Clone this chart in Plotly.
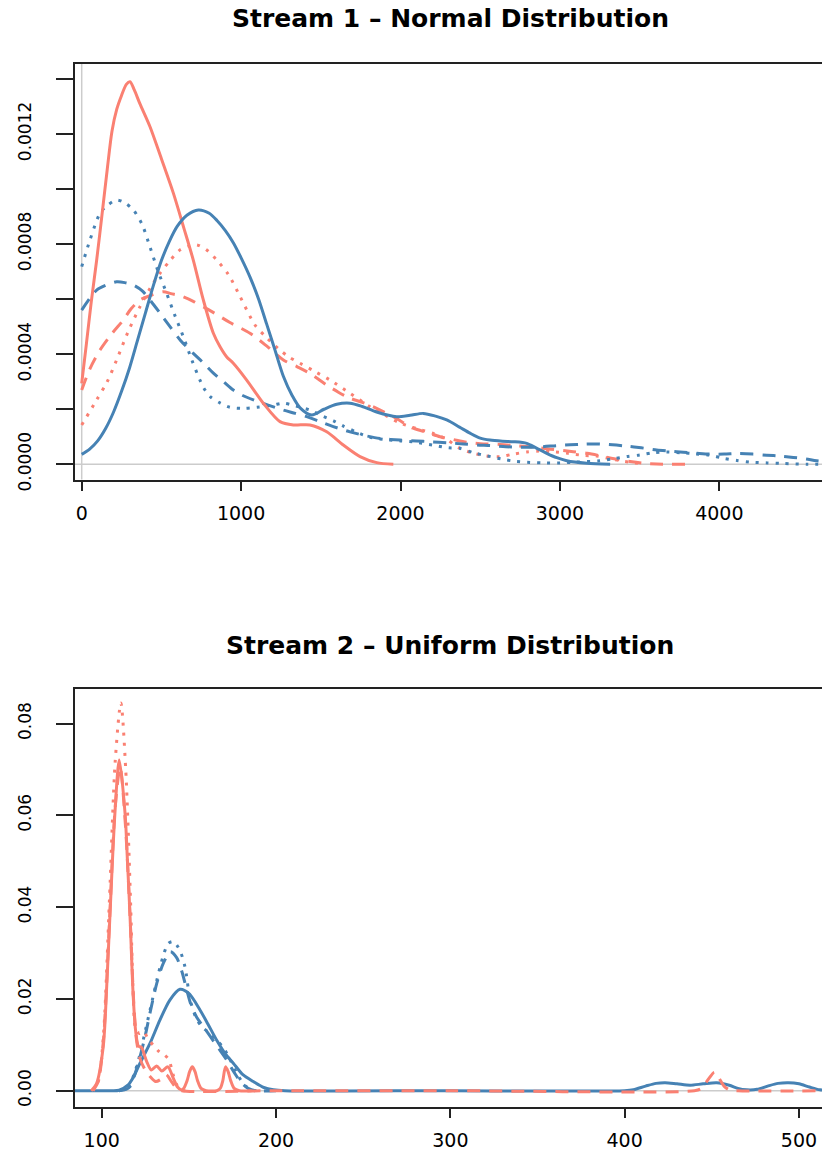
import plotly.graph_objects as go

SALMON = "#FA8072"
STEEL = "#4682B4"

# ---------------- Stream 1 : kernel density estimates ----------------
s1_red_solid_x = [0, 30, 60, 94, 130, 160, 190, 220, 250, 280, 303, 330, 365, 428, 500, 575, 640,
                  700, 763, 826, 868, 910, 951, 1035, 1139, 1244, 1328, 1432, 1537, 1641, 1746,
                  1851, 1955]
s1_red_solid_y = [0.000294, 0.00044, 0.00059, 0.000742, 0.00092, 0.00107, 0.00121, 0.00129, 0.00134,
                  0.00138, 0.00139, 0.00136, 0.00131, 0.001227, 0.00111, 0.000985, 0.00086,
                  0.000742, 0.000597, 0.000476, 0.000427, 0.00039, 0.000367, 0.000306, 0.000222,
                  0.000155, 0.000143, 0.000143, 0.000118, 0.00007, 0.000028, 0.000006, 0.0]

s1_red_dash_x = [0, 50, 115, 190, 261, 310, 366, 440, 512, 560, 620, 700, 770, 830, 930, 1056, 1160,
                 1265, 1350, 1432, 1537, 1610, 1683, 1760, 1830, 1955, 2080, 2170, 2248, 2330, 2415,
                 2500, 2624, 2740, 2833, 2938, 3084, 3170, 3252, 3340, 3440, 3520, 3607, 3700, 3835]
s1_red_dash_y = [0.00027, 0.000345, 0.000415, 0.000475, 0.000524, 0.000565, 0.000597, 0.000615,
                 0.000627, 0.00062, 0.000612, 0.000592, 0.00057, 0.00055, 0.000515, 0.000476,
                 0.00043, 0.000379, 0.000355, 0.00033, 0.000288, 0.000262, 0.00024, 0.000225,
                 0.000209, 0.000173, 0.000131, 0.000115, 0.0001, 0.00009, 0.00008, 0.000075,
                 0.000072, 0.000067, 0.000063, 0.000055, 0.000046, 0.00004, 0.000031, 0.00002,
                 0.00001, 0.000004, 0.000001, 0.0, 0.0]

s1_red_dot_x = [0, 94, 160, 219, 290, 366, 430, 491, 554, 617, 670, 721, 780, 847, 920, 993, 1087,
                1160, 1244, 1300, 1370, 1460, 1558, 1683, 1809, 1900, 1997, 2100, 2206, 2290, 2373,
                2457, 2541, 2624, 2708, 2792, 2870, 2950, 3050, 3150, 3230, 3320, 3398, 3500]
s1_red_dot_y = [0.000143, 0.000234, 0.0003, 0.000379, 0.00048, 0.000573, 0.00064, 0.000694, 0.00074,
                0.000779, 0.000792, 0.000797, 0.00078, 0.000742, 0.00069, 0.00061, 0.000506,
                0.00046, 0.000415, 0.00039, 0.000367, 0.000338, 0.000306, 0.000258, 0.000209,
                0.00018, 0.00015, 0.00013, 0.000112, 0.00009, 0.000058, 0.00004, 0.00003,
                0.000028, 0.000037, 0.000045, 0.000048, 0.000046, 0.00004, 0.000032, 0.00003,
                0.00002, 0.000011, 0.000003]

s1_blue_solid_x = [0, 50, 100, 150, 200, 250, 300, 350, 400, 450, 500, 550, 600, 660, 732, 800, 850,
                   900, 951, 1000, 1056, 1110, 1160, 1210, 1265, 1320, 1370, 1443, 1520, 1600, 1683,
                   1760, 1850, 1976, 2060, 2143, 2220, 2290, 2370, 2436, 2500, 2561, 2640, 2708,
                   2792, 2850, 2917, 2980, 3043, 3168, 3315]
s1_blue_solid_y = [0.000036, 0.000055, 0.000085, 0.00013, 0.00019, 0.000265, 0.00035, 0.00045,
                   0.00055, 0.00065, 0.00074, 0.00081, 0.000865, 0.000905, 0.000924, 0.000912,
                   0.000885, 0.00085, 0.000805, 0.00075, 0.00068, 0.0006, 0.00051, 0.00042,
                   0.00032, 0.00025, 0.000205, 0.000179, 0.0002, 0.000218, 0.000222, 0.00021,
                   0.00019, 0.000173, 0.000178, 0.000185, 0.000175, 0.000161, 0.000135, 0.000113,
                   0.000095, 0.000088, 0.000084, 0.000082, 0.000076, 0.00006, 0.00004, 0.000024,
                   0.000013, 0.000004, 0.0]

s1_blue_dash_x = [0, 94, 150, 219, 270, 324, 380, 428, 490, 554, 620, 700, 760, 826, 890, 951, 1010,
                  1077, 1170, 1265, 1340, 1411, 1495, 1578, 1683, 1788, 1872, 1997, 2100, 2185,
                  2290, 2394, 2480, 2561, 2660, 2749, 2830, 2896, 2980, 3063, 3150, 3230, 3330,
                  3419, 3510, 3607, 3690, 3774, 3860, 3941, 4030, 4119, 4210, 4297, 4380, 4464,
                  4540, 4611, 4700]
s1_blue_dash_y = [0.00056, 0.000633, 0.00065, 0.000663, 0.00066, 0.000651, 0.00063, 0.000597,
                  0.00055, 0.0005, 0.00045, 0.000403, 0.00037, 0.000331, 0.0003, 0.00027, 0.00025,
                  0.000234, 0.000215, 0.000197, 0.000185, 0.000173, 0.000155, 0.000137, 0.000118,
                  0.000103, 0.000094, 0.000088, 0.000085, 0.000082, 0.000078, 0.000074, 0.00007,
                  0.000068, 0.000064, 0.000062, 0.000062, 0.000064, 0.000068, 0.000071, 0.000073,
                  0.000074, 0.000071, 0.000066, 0.00006, 0.000052, 0.000048, 0.000044, 0.00004,
                  0.000037, 0.000037, 0.000039, 0.000037, 0.000033, 0.00003, 0.000025, 0.00002,
                  0.000013, 0.000008]

s1_blue_dot_x = [0, 52, 115, 160, 219, 270, 324, 380, 428, 480, 533, 585, 637, 690, 763, 806, 870,
                 930, 1014, 1100, 1200, 1265, 1340, 1432, 1510, 1579, 1641, 1720, 1809, 1900, 2000,
                 2100, 2200, 2300, 2373, 2457, 2541, 2635, 2718, 2812, 2900, 3000, 3100, 3252,
                 3335, 3419, 3503, 3586, 3670, 3760, 3850, 3941, 4025, 4110, 4193, 4300, 4400,
                 4549, 4650]
s1_blue_dot_y = [0.000718, 0.000815, 0.000912, 0.00094, 0.00096, 0.00095, 0.000924, 0.00087,
                 0.00079, 0.0007, 0.000621, 0.00054, 0.000464, 0.00038, 0.00028, 0.000246,
                 0.000222, 0.000207, 0.000203, 0.000207, 0.000215, 0.000222, 0.000212, 0.000197,
                 0.000175, 0.000158, 0.000139, 0.000118, 0.000098, 0.00009, 0.000085, 0.00008,
                 0.00007, 0.00006, 0.000058, 0.000042, 0.000031, 0.000019, 0.000011, 0.000007,
                 0.000005, 0.000005, 0.000008, 0.000013, 0.00002, 0.000028, 0.000034, 0.000042,
                 0.000045, 0.000042, 0.000038, 0.000033, 0.000022, 0.000014, 0.000008, 0.000005,
                 0.000003, 0.0, 0.0]

# ---------------- Stream 2 : kernel density estimates ----------------
s2_red_solid_x = [94, 97, 100.9, 102.8, 104.8, 107.6, 110.1, 113.4, 114.8, 116.2, 118.1, 119.5, 121,
                  122.9, 124.5, 126, 128.5, 131.5, 134.5, 138, 141, 143.5, 145.5, 147, 149, 150.5,
                  152, 153.5, 155, 157, 160, 166, 168, 169.5, 171, 172.5, 174, 176, 179, 186]
s2_red_solid_y = [0.0, 0.0015, 0.0096, 0.022, 0.0387, 0.0605, 0.0721, 0.0605, 0.05, 0.0387, 0.0205,
                  0.013, 0.0098, 0.0094, 0.0078, 0.0062, 0.0045, 0.0054, 0.0043, 0.0052, 0.0028,
                  0.0008, 0.0002, 0.0005, 0.0022, 0.0042, 0.0052, 0.0042, 0.0022, 0.0005, 0.0, 0.0,
                  0.0005, 0.0022, 0.0052, 0.0042, 0.0022, 0.0005, 0.0, 0.0]

s2_red_dash_x = [95, 98, 101, 104.5, 107.8, 110.6, 113.6, 116.5, 118.3, 120, 122, 125, 128, 131, 134,
                 137, 140, 143, 146, 200, 300, 440, 444, 448, 451.5, 454, 457, 460, 465, 520]
s2_red_dash_y = [0.0, 0.002, 0.011, 0.037, 0.062, 0.0705, 0.058, 0.036, 0.02, 0.011, 0.007, 0.0045,
                 0.003, 0.002, 0.0025, 0.0035, 0.002, 0.0005, 0.0, 0.0, 0.0, 0.0, 0.0005, 0.0025,
                 0.004, 0.0028, 0.001, 0.0002, 0.0, 0.0]

s2_red_dot_x = [95, 98, 101, 104.5, 107.8, 111, 113.8, 116.5, 118, 119.5, 121.5, 124, 127, 130, 133,
                136, 138.5, 141, 143.5, 146, 150]
s2_red_dot_y = [0.0, 0.002, 0.012, 0.042, 0.072, 0.0845, 0.07, 0.042, 0.022, 0.0135, 0.0125, 0.0129,
                0.011, 0.0098, 0.0085, 0.0078, 0.0068, 0.0035, 0.001, 0.0001, 0.0]

s2_blue_solid_x = [80, 105, 110, 115, 118.1, 122, 127.7, 133.4, 139.2, 144.9, 150, 156.4, 161, 166,
                   171, 175.5, 181, 187, 193, 198.5, 205, 300, 400, 405, 412, 418, 423.2, 430,
                   437.5, 445, 452.8, 460, 465, 470, 476, 482, 488, 494, 500, 506, 512, 520]
s2_blue_solid_y = [0.0, 0.0, 0.0001, 0.0012, 0.0029, 0.006, 0.0103, 0.0154, 0.0198, 0.0221, 0.0212,
                   0.0176, 0.0145, 0.011, 0.008, 0.006, 0.0035, 0.002, 0.0007, 0.0002, 0.0, 0.0,
                   0.0, 0.0002, 0.001, 0.0016, 0.00175, 0.0015, 0.0012, 0.0015, 0.00175, 0.0012,
                   0.0005, 0.0002, 0.0003, 0.001, 0.0016, 0.00175, 0.0015, 0.0008, 0.0002, 0.0]

s2_blue_dash_x = [110, 114, 116.3, 119, 122, 125, 127.7, 131.6, 135.4, 139.5, 143, 146, 148.8, 151,
                  154.5, 158.3, 162, 166, 171.7, 176, 180, 184, 188, 200]
s2_blue_dash_y = [0.0, 0.0003, 0.0009, 0.0035, 0.0074, 0.012, 0.0169, 0.0234, 0.0278, 0.0303, 0.029,
                  0.026, 0.022, 0.019, 0.016, 0.014, 0.012, 0.0098, 0.0067, 0.004, 0.0018, 0.0005,
                  0.0, 0.0]

s2_blue_dot_x = [110, 114, 116.3, 119, 122, 125, 128, 131.6, 135, 138.2, 141, 143, 145.5, 147.8,
                 150.7, 154, 157.4, 162, 166, 170, 174, 178, 182, 186, 190]
s2_blue_dot_y = [0.0, 0.0004, 0.0015, 0.004, 0.008, 0.013, 0.018, 0.024, 0.029, 0.0321, 0.0325,
                 0.0318, 0.03, 0.027, 0.02, 0.016, 0.014, 0.0125, 0.011, 0.0093, 0.0065, 0.0035,
                 0.0012, 0.0002, 0.0]

# ---------------- axis ticks ----------------
s1_xticks = [0, 1000, 2000, 3000, 4000]
s1_yticks = [0.0, 0.0002, 0.0004, 0.0006, 0.0008, 0.0010, 0.0012, 0.0014]
s1_ylabels = ["0.0000", "", "0.0004", "", "0.0008", "", "0.0012", ""]
s2_xticks = [100, 200, 300, 400, 500]
s2_yticks = [0.0, 0.02, 0.04, 0.06, 0.08]
s2_ylabels = ["0.00", "0.02", "0.04", "0.06", "0.08"]

W, H = 822, 1153
DASH = "13px,9px"
DOT = "3px,7px"
LW = 3

fig = go.Figure()


def add(xs, ys, color, dash, xa, ya):
    fig.add_trace(go.Scatter(
        x=xs, y=ys, mode="lines", xaxis=xa, yaxis=ya, showlegend=False,
        line=dict(color=color, width=LW, dash=dash, shape="spline", smoothing=0.8),
        hoverinfo="skip"))


add(s1_red_dot_x, s1_red_dot_y, SALMON, DOT, "x", "y")
add(s1_red_dash_x, s1_red_dash_y, SALMON, DASH, "x", "y")
add(s1_blue_dot_x, s1_blue_dot_y, STEEL, DOT, "x", "y")
add(s1_blue_dash_x, s1_blue_dash_y, STEEL, DASH, "x", "y")
add(s1_red_solid_x, s1_red_solid_y, SALMON, "solid", "x", "y")
add(s1_blue_solid_x, s1_blue_solid_y, STEEL, "solid", "x", "y")

add(s2_blue_dot_x, s2_blue_dot_y, STEEL, DOT, "x2", "y2")
add(s2_blue_dash_x, s2_blue_dash_y, STEEL, DASH, "x2", "y2")
add(s2_blue_solid_x, s2_blue_solid_y, STEEL, "solid", "x2", "y2")
add(s2_red_dot_x, s2_red_dot_y, SALMON, DOT, "x2", "y2")
add(s2_red_solid_x, s2_red_solid_y, SALMON, "solid", "x2", "y2")
add(s2_red_dash_x, s2_red_dash_y, SALMON, DASH, "x2", "y2")


def dom(top_px, bottom_px):
    return [1 - bottom_px / H, 1 - top_px / H]


x_dom = [75 / W, 1.0]
tick_font_x = dict(family="DejaVu Sans", size=19, color="black")
tick_font_y = dict(family="DejaVu Sans", size=17, color="black")
box = dict(showline=True, linecolor="#222222", linewidth=1.5, showgrid=False, zeroline=False,
           ticks="outside", tickcolor="#222222", tickwidth=1.5, automargin=False)

fig.update_layout(
    width=W, height=H, margin=dict(l=0, r=0, t=0, b=0),
    paper_bgcolor="white", plot_bgcolor="white",
    xaxis=dict(domain=x_dom, range=[-42, 4644], anchor="y", mirror=True,
               tickvals=s1_xticks, ticktext=[str(v) for v in s1_xticks], ticklen=10,
               tickfont=tick_font_x, ticklabelstandoff=6, **box),
    yaxis=dict(domain=dom(63.5, 479.5), range=[-0.0000552, 0.001456], anchor="x",
               tickvals=s1_yticks, ticktext=s1_ylabels, ticklen=17, tickangle=-90,
               tickfont=tick_font_y, ticklabelstandoff=18, **box),
    xaxis2=dict(domain=x_dom, range=[84.7, 513.2], anchor="y2", mirror=True,
                tickvals=s2_xticks, ticktext=[str(v) for v in s2_xticks], ticklen=10,
                tickfont=tick_font_x, ticklabelstandoff=6, **box),
    yaxis2=dict(domain=dom(689, 1106.5), range=[-0.00344, 0.08756], anchor="x2",
                tickvals=s2_yticks, ticktext=s2_ylabels, ticklen=17, tickangle=-90,
                tickfont=tick_font_y, ticklabelstandoff=18, **box),
)

# density baselines (and the x = 0 reference in the first panel)
gray = dict(color="#cccccc", width=1.5)
fig.add_shape(type="line", xref="x domain", yref="y", x0=0, x1=1, y0=0, y1=0, line=gray, layer="below")
fig.add_shape(type="line", xref="x", yref="y domain", x0=0, x1=0, y0=0, y1=1, line=gray, layer="below")
fig.add_shape(type="line", xref="x2 domain", yref="y2", x0=0, x1=1, y0=0, y1=0, line=gray, layer="below")

title_font = dict(family="DejaVu Sans", size=25, color="black")
fig.add_annotation(text="<b>Stream 1 \u2013 Normal Distribution</b>", xref="paper", yref="paper",
                   x=450 / W, y=1 - 19 / H, xanchor="center", yanchor="middle",
                   showarrow=False, font=title_font)
fig.add_annotation(text="<b>Stream 2 \u2013 Uniform Distribution</b>", xref="paper", yref="paper",
                   x=450 / W, y=1 - 645 / H, xanchor="center", yanchor="middle",
                   showarrow=False, font=title_font)

fig.write_html("out.html")
